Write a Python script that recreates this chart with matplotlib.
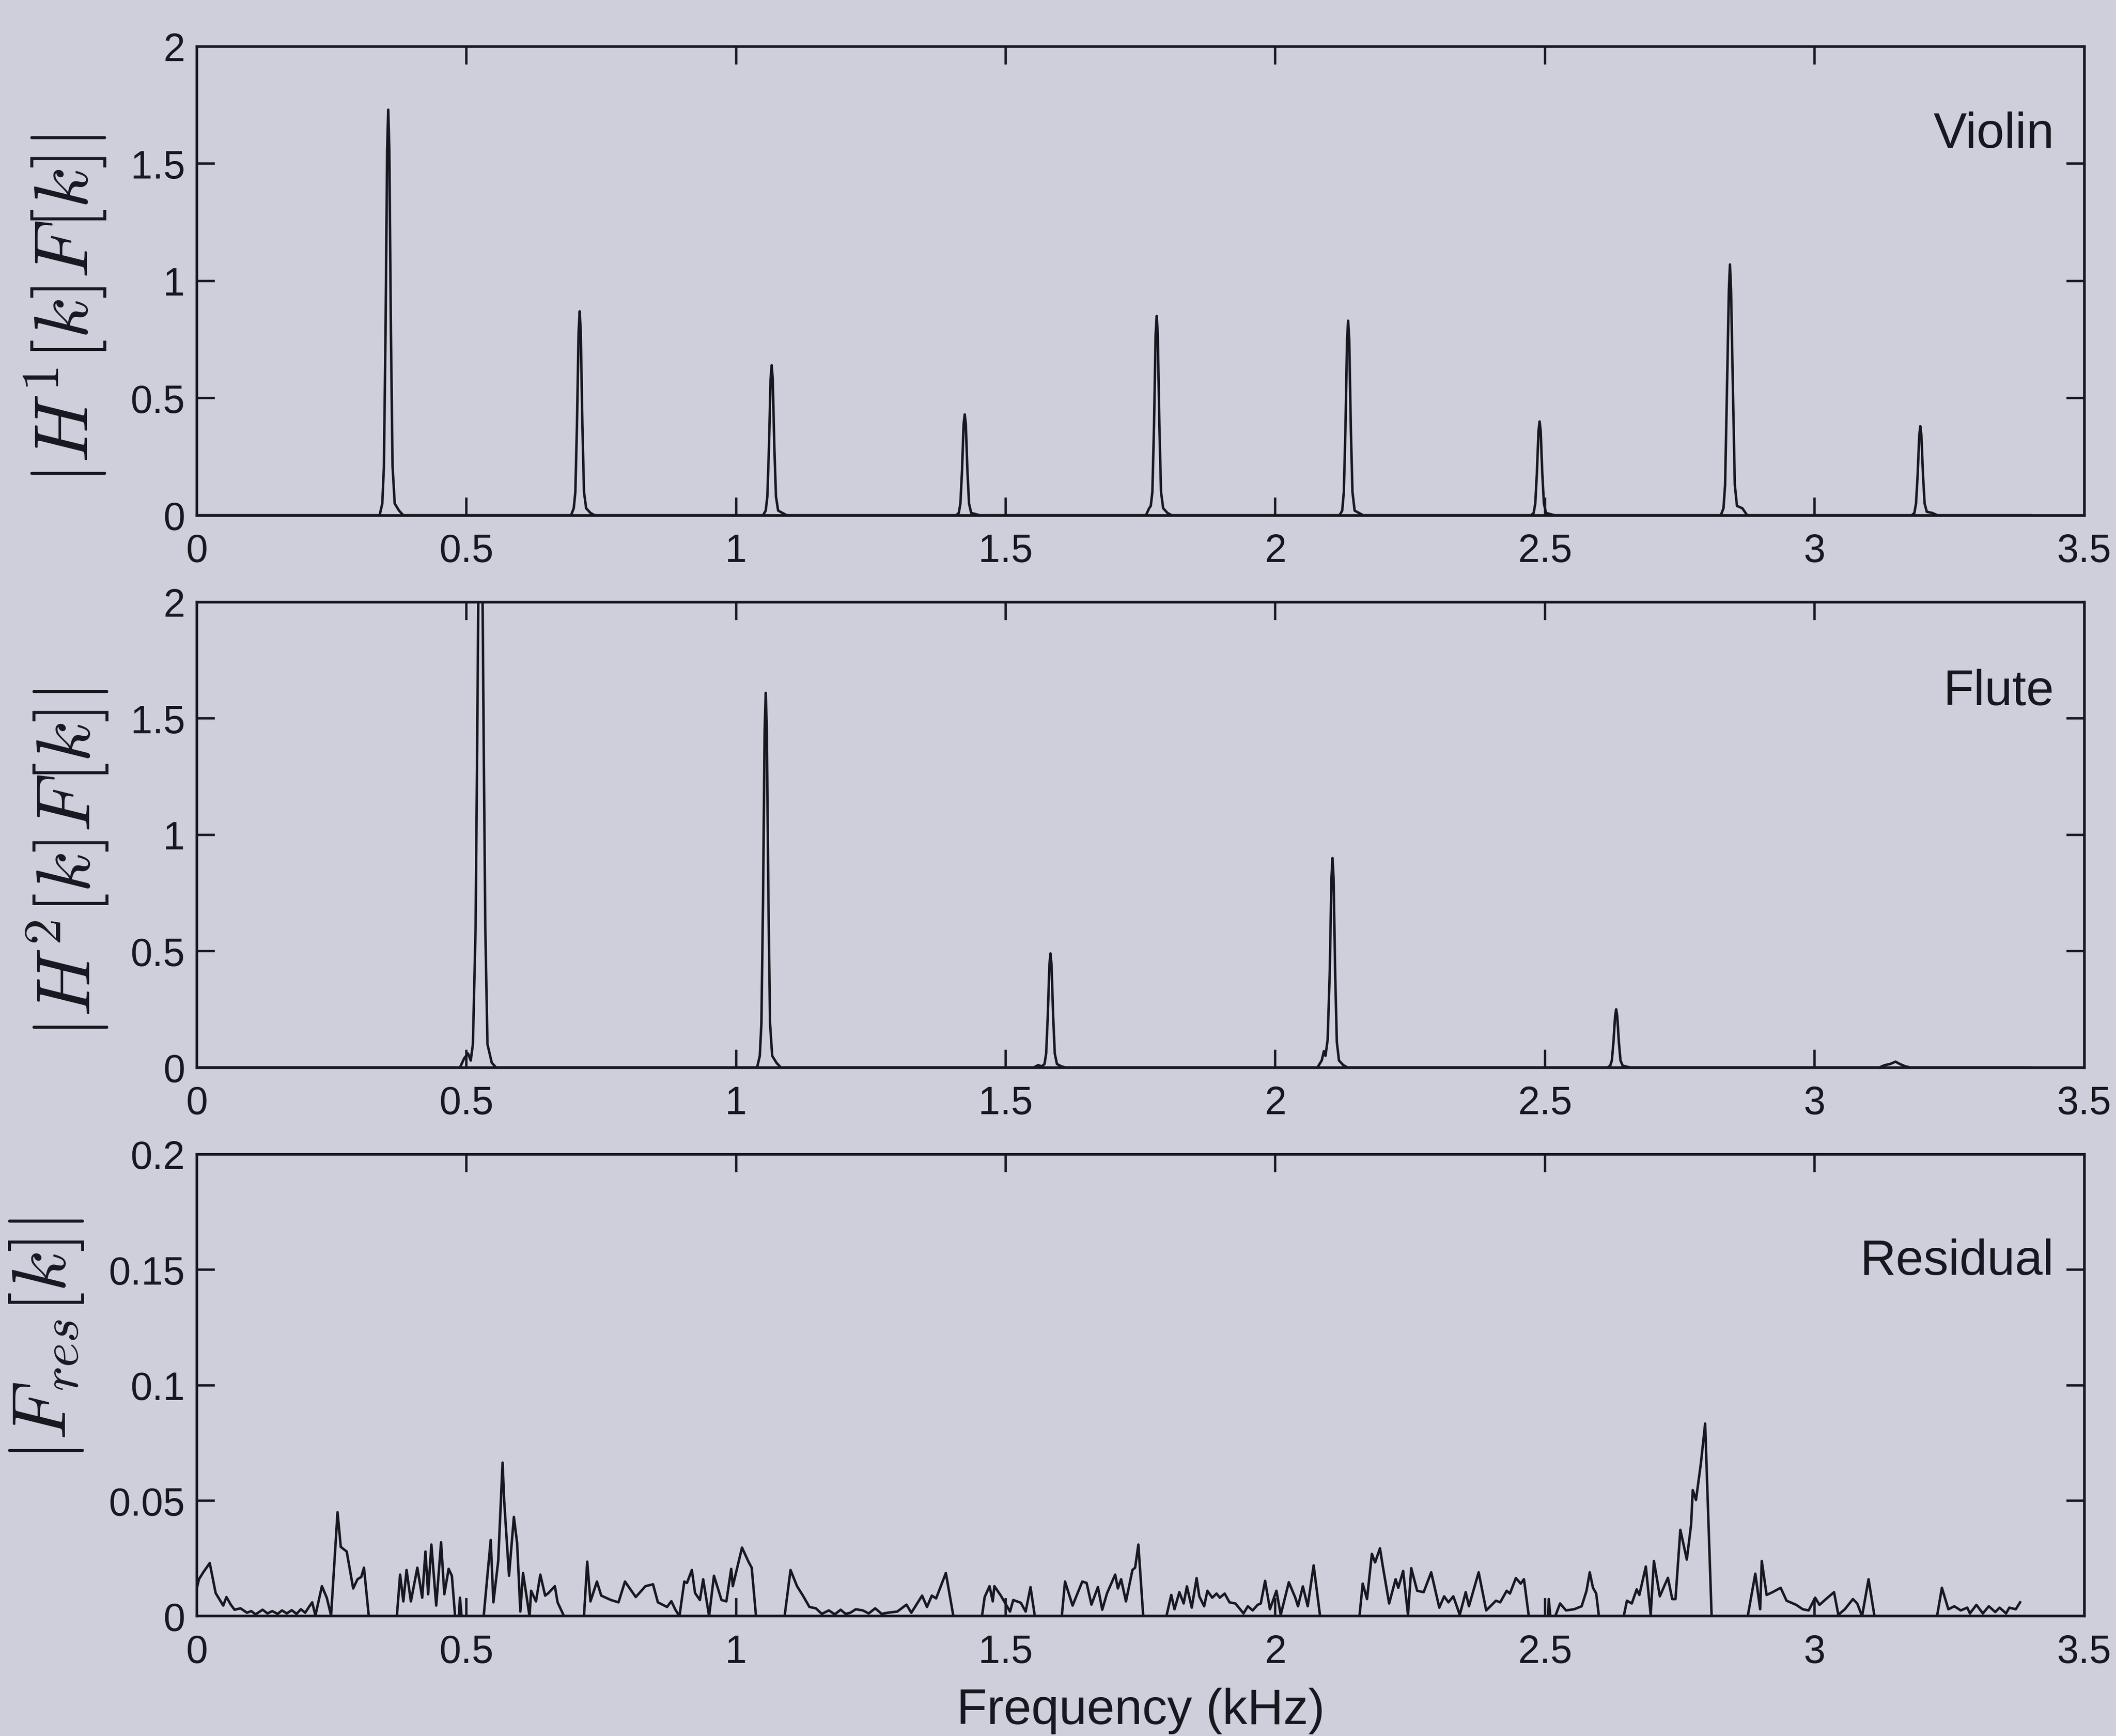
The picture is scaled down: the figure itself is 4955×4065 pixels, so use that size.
import matplotlib
matplotlib.use("Agg")
import matplotlib.pyplot as plt

plt.rcParams['font.family'] = ['Liberation Sans', 'DejaVu Sans']
plt.rcParams['mathtext.fontset'] = 'cm'

# spectra (frequency in kHz, magnitude)
violin_f = [0.000, 0.339, 0.344, 0.347, 0.350, 0.353, 0.355, 0.357, 0.360, 0.363, 0.367, 0.375, 0.383,
            0.694, 0.699, 0.702, 0.705, 0.708, 0.710, 0.712, 0.715, 0.718, 0.722, 0.730, 0.738,
            1.050, 1.055, 1.058, 1.061, 1.064, 1.066, 1.068, 1.071, 1.074, 1.078, 1.086, 1.094,
            1.408, 1.413, 1.416, 1.419, 1.422, 1.424, 1.426, 1.429, 1.432, 1.436, 1.444, 1.452,
            1.760, 1.766, 1.769, 1.772, 1.775, 1.778, 1.780, 1.782, 1.785, 1.788, 1.792, 1.800, 1.808,
            2.119, 2.124, 2.127, 2.130, 2.133, 2.135, 2.137, 2.140, 2.143, 2.147, 2.155, 2.163,
            2.474, 2.479, 2.482, 2.485, 2.488, 2.490, 2.492, 2.495, 2.498, 2.502, 2.510, 2.518,
            2.826, 2.831, 2.834, 2.837, 2.841, 2.843, 2.845, 2.849, 2.852, 2.856, 2.866, 2.875,
            3.180, 3.185, 3.188, 3.191, 3.194, 3.196, 3.198, 3.201, 3.204, 3.208, 3.218, 3.228, 3.400]
violin_v = [0.0, 0.0, 0.05, 0.21, 0.78, 1.56, 1.73, 1.56, 0.78, 0.21, 0.05, 0.02, 0.0,
            0.0, 0.03, 0.10, 0.39, 0.78, 0.87, 0.78, 0.39, 0.10, 0.03, 0.01, 0.0,
            0.0, 0.02, 0.08, 0.29, 0.58, 0.64, 0.58, 0.29, 0.08, 0.02, 0.01, 0.0,
            0.0, 0.01, 0.05, 0.19, 0.39, 0.43, 0.39, 0.19, 0.05, 0.01, 0.005, 0.0,
            0.0, 0.03, 0.04, 0.10, 0.38, 0.77, 0.85, 0.77, 0.38, 0.10, 0.03, 0.01, 0.0,
            0.0, 0.02, 0.10, 0.37, 0.75, 0.83, 0.75, 0.37, 0.10, 0.02, 0.01, 0.0,
            0.0, 0.01, 0.05, 0.18, 0.36, 0.40, 0.36, 0.18, 0.05, 0.01, 0.005, 0.0,
            0.0, 0.03, 0.13, 0.48, 0.96, 1.07, 0.96, 0.48, 0.13, 0.04, 0.03, 0.0,
            0.0, 0.01, 0.05, 0.17, 0.34, 0.38, 0.34, 0.17, 0.05, 0.015, 0.01, 0.0, 0.0]

flute_f = [0.000, 0.488, 0.496, 0.503, 0.508, 0.512, 0.517, 0.520, 0.523, 0.526, 0.529, 0.532, 0.535,
           0.539, 0.547, 0.555,
           1.039, 1.044, 1.047, 1.050, 1.053, 1.055, 1.057, 1.060, 1.063, 1.067, 1.075, 1.083,
           1.552, 1.560, 1.567, 1.572, 1.575, 1.578, 1.581, 1.583, 1.585, 1.588, 1.591, 1.595, 1.603, 1.611,
           2.078, 2.086, 2.090, 2.093, 2.097, 2.101, 2.104, 2.106, 2.108, 2.111, 2.114, 2.118, 2.126, 2.134,
           2.616, 2.621, 2.624, 2.627, 2.630, 2.632, 2.634, 2.637, 2.640, 2.644, 2.652, 2.660,
           3.120, 3.130, 3.140, 3.150, 3.158, 3.168, 3.178, 3.400]
flute_v = [0.0, 0.0, 0.04, 0.06, 0.03, 0.10, 0.60, 1.40, 2.30, 2.60, 2.30, 1.40, 0.60,
           0.10, 0.02, 0.0,
           0.0, 0.05, 0.19, 0.72, 1.45, 1.61, 1.45, 0.72, 0.19, 0.05, 0.02, 0.0,
           0.0, 0.01, 0.005, 0.015, 0.06, 0.22, 0.44, 0.49, 0.44, 0.22, 0.06, 0.015, 0.005, 0.0,
           0.0, 0.03, 0.07, 0.05, 0.12, 0.42, 0.81, 0.90, 0.81, 0.40, 0.11, 0.03, 0.01, 0.0,
           0.0, 0.008, 0.03, 0.11, 0.22, 0.25, 0.22, 0.11, 0.03, 0.008, 0.003, 0.0,
           0.0, 0.01, 0.015, 0.025, 0.015, 0.005, 0.0, 0.0]

res_f = [0.000, 0.004, 0.012, 0.024, 0.035, 0.049, 0.055, 0.063, 0.070, 0.081, 0.093, 0.101, 0.109,
         0.122, 0.131, 0.140, 0.150, 0.158, 0.167, 0.176, 0.185, 0.193, 0.201, 0.208, 0.214, 0.220,
         0.232, 0.241, 0.249, 0.261, 0.267, 0.278, 0.290, 0.298, 0.305, 0.310, 0.319,
         0.371, 0.377, 0.383, 0.389, 0.397, 0.409, 0.418, 0.424, 0.429, 0.435, 0.444, 0.453, 0.459,
         0.467, 0.473, 0.479, 0.486, 0.488, 0.491,
         0.532, 0.545, 0.550, 0.559, 0.567, 0.570, 0.579, 0.588, 0.594, 0.600, 0.605, 0.617, 0.620,
         0.629, 0.637, 0.646, 0.652, 0.664, 0.669, 0.681,
         0.718, 0.724, 0.730, 0.742, 0.750, 0.768, 0.782, 0.794, 0.814, 0.832, 0.846, 0.855, 0.872,
         0.880, 0.887, 0.895, 0.904, 0.909, 0.918, 0.924, 0.933, 0.939, 0.950, 0.959, 0.973, 0.982,
         0.991, 0.994, 1.011, 1.023, 1.029, 1.037,
         1.090, 1.101, 1.113, 1.124, 1.136, 1.148, 1.159, 1.172, 1.183, 1.194, 1.203, 1.212, 1.222,
         1.235, 1.246, 1.258, 1.270, 1.281, 1.299, 1.316, 1.325, 1.345, 1.354, 1.363, 1.371, 1.389,
         1.403,
         1.456, 1.461, 1.470, 1.476, 1.479, 1.491, 1.508, 1.514, 1.528, 1.537, 1.546, 1.554,
         1.604, 1.610, 1.624, 1.642, 1.650, 1.659, 1.671, 1.679, 1.688, 1.703, 1.708, 1.714, 1.723,
         1.735, 1.740, 1.746, 1.755,
         1.798, 1.807, 1.813, 1.822, 1.830, 1.836, 1.845, 1.854, 1.859, 1.868, 1.874, 1.883, 1.891,
         1.897, 1.906, 1.915, 1.926, 1.941, 1.949, 1.958, 1.967, 1.973, 1.981, 1.990, 2.002, 2.010,
         2.025, 2.037, 2.042, 2.051, 2.060, 2.071, 2.083,
         2.156, 2.162, 2.170, 2.179, 2.185, 2.194, 2.199, 2.211, 2.223, 2.228, 2.237, 2.246, 2.252,
         2.263, 2.275, 2.289, 2.304, 2.313, 2.321, 2.330, 2.342, 2.353, 2.359, 2.377, 2.391, 2.409,
         2.417, 2.429, 2.435, 2.446, 2.455, 2.461, 2.470,
         2.506, 2.507, 2.510, 2.519, 2.528, 2.539, 2.554, 2.568, 2.577, 2.583, 2.589, 2.595, 2.600,
         2.646, 2.652, 2.661, 2.670, 2.675, 2.687, 2.696, 2.702, 2.713, 2.722, 2.728, 2.736, 2.742,
         2.751, 2.763, 2.771, 2.774, 2.780, 2.789, 2.797, 2.809,
         2.876, 2.890, 2.899, 2.902, 2.911, 2.922, 2.937, 2.948, 2.966, 2.978, 2.989, 3.001, 3.009,
         3.021, 3.036, 3.044, 3.056, 3.071, 3.079, 3.088, 3.100, 3.111,
         3.227, 3.236, 3.248, 3.259, 3.271, 3.283, 3.288, 3.300, 3.312, 3.323, 3.335, 3.343, 3.355,
         3.361, 3.373, 3.381]
res_v = [0.012, 0.016, 0.019, 0.023, 0.010, 0.0046, 0.0083, 0.005, 0.0028, 0.0034, 0.0015, 0.0022, 0.0008,
         0.0028, 0.0012, 0.0022, 0.0010, 0.0025, 0.0012, 0.0026, 0.0010, 0.0030, 0.0015, 0.0040, 0.0060, 0.0003,
         0.013, 0.008, 0.0003, 0.045, 0.030, 0.028, 0.012, 0.016, 0.017, 0.021, 0.0,
         0.0, 0.018, 0.0064, 0.020, 0.0064, 0.021, 0.008, 0.028, 0.0095, 0.031, 0.0046, 0.032, 0.0095,
         0.0205, 0.0175, 0.0, 0.0, 0.008, 0.0,
         0.0, 0.033, 0.006, 0.024, 0.0665, 0.050, 0.0175, 0.043, 0.0316, 0.002, 0.0187, 0.0, 0.011,
         0.0064, 0.018, 0.0089, 0.010, 0.013, 0.006, 0.0,
         0.0, 0.0236, 0.0064, 0.015, 0.0089, 0.007, 0.006, 0.015, 0.0083, 0.013, 0.0138, 0.006, 0.004,
         0.0065, 0.003, 0.0, 0.015, 0.0144, 0.020, 0.010, 0.007, 0.016, 0.0, 0.0175, 0.007, 0.0064,
         0.0205, 0.013, 0.0297, 0.0236, 0.021, 0.0,
         0.0, 0.020, 0.013, 0.0089, 0.004, 0.0034, 0.001, 0.0025, 0.0008, 0.0028, 0.0010, 0.0015, 0.0030,
         0.0025, 0.0012, 0.0034, 0.0010, 0.0015, 0.002, 0.005, 0.0015, 0.0089, 0.004, 0.0089, 0.0077, 0.0187,
         0.0,
         0.0, 0.0083, 0.013, 0.0064, 0.013, 0.0089, 0.002, 0.007, 0.0058, 0.002, 0.0126, 0.0,
         0.0, 0.015, 0.0046, 0.015, 0.0144, 0.005, 0.0126, 0.0028, 0.010, 0.018, 0.012, 0.016, 0.0064,
         0.020, 0.021, 0.031, 0.0,
         0.0, 0.0092, 0.003, 0.0104, 0.0055, 0.0129, 0.0037, 0.0165, 0.0086, 0.0043, 0.011, 0.008, 0.0098,
         0.008, 0.0098, 0.006, 0.0055, 0.0012, 0.0043, 0.0025, 0.0049, 0.0055, 0.0153, 0.003, 0.011, 0.0006,
         0.0147, 0.008, 0.0043, 0.0129, 0.0043, 0.022, 0.0,
         0.0, 0.0141, 0.0074, 0.027, 0.0233, 0.0294, 0.022, 0.0055, 0.016, 0.0123, 0.0196, 0.0006, 0.0208,
         0.011, 0.0104, 0.019, 0.0037, 0.0086, 0.006, 0.0086, 0.0006, 0.0104, 0.0043, 0.019, 0.0025, 0.0067,
         0.006, 0.011, 0.0098, 0.0165, 0.0141, 0.016, 0.0,
         0.0, 0.0074, 0.0, 0.0, 0.0055, 0.0025, 0.003, 0.0043, 0.011, 0.019, 0.0123, 0.0098, 0.0,
         0.0, 0.0067, 0.0055, 0.0116, 0.0092, 0.0215, 0.0006, 0.0239, 0.0086, 0.0135, 0.0166, 0.0074, 0.0074,
         0.0374, 0.0245, 0.0398, 0.0546, 0.0503, 0.066, 0.0834, 0.0,
         0.0, 0.0184, 0.003, 0.0239, 0.0092, 0.0104, 0.0123, 0.0067, 0.0049, 0.003, 0.0025, 0.008, 0.0049,
         0.0074, 0.0104, 0.0006, 0.003, 0.0074, 0.0055, 0.0, 0.016, 0.0,
         0.0, 0.0123, 0.003, 0.0043, 0.0025, 0.0037, 0.0012, 0.0049, 0.0012, 0.0043, 0.0018, 0.0037, 0.0012,
         0.0037, 0.003, 0.006]

x_ticks = [0, 0.5, 1, 1.5, 2, 2.5, 3, 3.5]
x_ticklabels = ['0', '0.5', '1', '1.5', '2', '2.5', '3', '3.5']
h_ticks = [0, 0.5, 1, 1.5, 2]
h_ticklabels = ['0', '0.5', '1', '1.5', '2']
res_ticks = [0, 0.05, 0.1, 0.15, 0.2]
res_ticklabels = ['0', '0.05', '0.1', '0.15', '0.2']

panel_names = ['Violin', 'Flute', 'Residual']
ylabels = [r'$|H^1[k]F[k]|$', r'$|H^2[k]F[k]|$', r'$|F_{res}[k]|$']

paper = '#cfcfdb'
ink = '#17171f'

fig = plt.figure(figsize=(49.55, 40.66), dpi=100, facecolor=paper)
boxes = [[0.093, 0.703, 0.892, 0.270],
         [0.093, 0.385, 0.892, 0.268],
         [0.093, 0.069, 0.892, 0.266]]
series = [(violin_f, violin_v, 2.0, h_ticks, h_ticklabels),
          (flute_f, flute_v, 2.0, h_ticks, h_ticklabels),
          (res_f, res_v, 0.2, res_ticks, res_ticklabels)]
name_y = [0.785, 0.78, 0.74]
# y label anchor (axes coords): right edge x, centre y
label_xy = [(-0.047, 0.44), (-0.046, 0.44), (-0.059, 0.60)]

for i in range(3):
    ax = fig.add_axes(boxes[i])
    ax.set_facecolor(paper)
    f, v, top, yt, ytl = series[i]
    ax.plot(f, v, color=ink, lw=4.2)
    ax.set_xlim(0, 3.5)
    ax.set_ylim(0, top)
    ax.set_xticks(x_ticks)
    ax.set_xticklabels(x_ticklabels)
    ax.set_yticks(yt)
    ax.set_yticklabels(ytl)
    ax.tick_params(direction='in', top=True, right=True, length=30, width=4,
                   labelsize=66, color=ink, labelcolor=ink)
    ax.tick_params(axis='x', pad=30)
    ax.tick_params(axis='y', pad=20)
    for s in ax.spines.values():
        s.set_linewidth(4.5)
        s.set_color(ink)
    ax.set_ylabel(ylabels[i], fontsize=128, color=ink)
    ax.yaxis.set_label_coords(*label_xy[i])
    ax.text(0.984, name_y[i], panel_names[i], transform=ax.transAxes,
            ha='right', va='baseline', fontsize=84, color=ink)
    if i == 2:
        ax.set_xlabel('Frequency (kHz)', fontsize=84, color=ink, labelpad=28)

fig.savefig('out.png', dpi=100, facecolor=paper)
